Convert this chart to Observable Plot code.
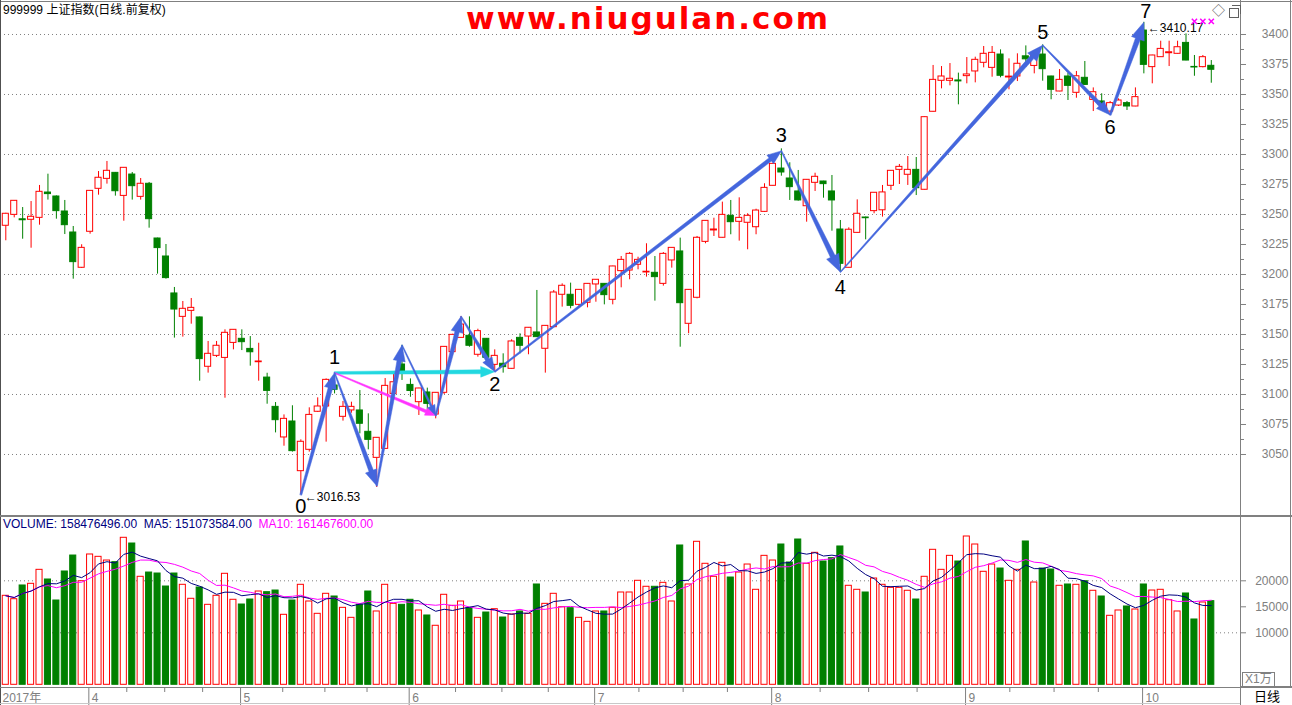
<!DOCTYPE html>
<html><head><meta charset="utf-8">
<script src="https://cdn.jsdelivr.net/npm/d3@7"></script>
<script src="https://cdn.jsdelivr.net/npm/@observablehq/plot@0.6"></script>
<style>
body{margin:0;background:#fff;}
#wrap{position:relative;width:1292px;height:705px;overflow:hidden;background:#fff;font-family:"Liberation Sans","Noto Sans CJK SC",sans-serif;}
.abs{position:absolute;}
.ln{position:absolute;background:#808080;}
</style></head><body><div id="wrap"></div>
<script>
// ---------- DATA ----------
const open = [3240.6,3249.7,3246.0,3245.6,3247.2,3268.3,3265.0,3252.5,3235.0,3205.6,
3235.6,3271.4,3279.7,3284.7,3265.5,3283.3,3264.7,3275.6,3230.0,3215.0,
3184.2,3164.7,3169.7,3164.2,3123.1,3132.2,3130.5,3143.0,3146.4,3138.0,
3126.9,3114.1,3089.7,3064.2,3077.5,3036.1,3053.9,3085.6,3090.0,3107.5,
3081.4,3086.7,3086.7,3068.9,3047.2,3054.7,3100.5,3125.0,3108.0,3093.6,
3101.7,3083.3,3101.4,3135.3,3147.2,3148.9,3133.1,3146.4,3124.7,3125.6,
3121.4,3147.2,3148.3,3151.7,3138.1,3156.1,3183.1,3183.1,3174.7,3176.4,
3191.7,3192.2,3178.9,3202.8,3203.3,3208.1,3201.7,3201.4,3192.2,3211.7,
3219.2,3158.9,3180.6,3227.2,3236.7,3230.6,3248.9,3243.9,3243.1,3239.4,
3252.2,3273.9,3288.3,3280.0,3269.2,3256.9,3276.4,3277.5,3269.2,3237.5,
3205.6,3234.7,3247.5,3252.8,3253.5,3273.9,3287.2,3283.1,3287.2,3270.6,
3335.6,3361.4,3361.4,3361.7,3365.3,3369.2,3376.4,3372.2,3383.3,3364.2,
3365.0,3381.8,3373.8,3383.3,3365.0,3352.5,3365.0,3351.4,3363.9,3345.5,
3344.2,3335.8,3340.8,3342.8,3340.0,3403.3,3372.8,3381.1,3384.4,3383.9,
3393.0,3373.0,3372.8,3373.9];
const high = [3251.0,3261.6,3255.8,3260.8,3274.2,3283.6,3265.5,3261.7,3240.0,3224.8,
3269.9,3285.8,3294.2,3285.0,3289.1,3285.0,3280.0,3276.7,3230.3,3225.0,
3189.2,3177.5,3180.0,3164.5,3144.2,3144.2,3153.9,3154.0,3153.9,3148.3,
3142.7,3117.7,3093.3,3083.0,3090.6,3062.2,3088.9,3097.2,3113.0,3118.0,
3094.2,3093.6,3103.3,3083.9,3064.0,3113.3,3117.7,3141.0,3113.0,3105.2,
3105.3,3101.6,3140.0,3150.2,3165.0,3164.7,3154.4,3146.6,3137.2,3133.9,
3145.6,3150.6,3155.8,3186.7,3157.4,3186.7,3192.2,3192.8,3187.4,3192.4,
3195.8,3192.4,3206.9,3215.0,3218.3,3214.4,3225.6,3215.0,3218.3,3222.4,
3230.3,3187.4,3231.7,3244.9,3246.9,3260.3,3261.7,3263.9,3250.6,3254.4,
3275.6,3292.4,3304.7,3293.1,3286.7,3279.1,3284.4,3277.7,3282.5,3245.0,
3238.9,3262.2,3247.8,3268.3,3274.2,3286.6,3291.7,3298.3,3297.5,3331.3,
3374.2,3373.3,3375.8,3367.8,3380.8,3381.1,3390.0,3390.0,3387.2,3379.7,
3383.9,3390.5,3386.5,3391.4,3365.2,3370.8,3367.7,3369.2,3377.5,3355.5,
3350.6,3344.2,3346.4,3344.2,3355.5,3410.17,3382.7,3394.4,3394.4,3394.4,
3400.5,3382.5,3382.5,3378.3];
const low = [3228.1,3247.2,3229.4,3221.9,3241.1,3262.0,3246.1,3233.3,3196.1,3205.0,
3233.6,3266.1,3275.3,3265.3,3244.4,3262.0,3262.0,3238.6,3200.3,3196.1,
3147.0,3147.8,3158.6,3111.1,3117.8,3130.8,3096.9,3137.2,3136.6,3123.6,
3111.1,3091.9,3068.0,3056.9,3052.0,3016.53,3052.0,3085.0,3060.3,3100.5,
3077.8,3084.4,3067.2,3053.9,3022.5,3054.5,3097.7,3111.7,3097.7,3082.5,
3083.9,3079.7,3100.0,3133.0,3147.0,3139.4,3131.1,3126.9,3119.4,3117.8,
3121.2,3133.9,3133.1,3147.6,3117.8,3156.0,3172.8,3171.4,3172.8,3172.2,
3176.9,3174.7,3174.7,3188.9,3195.6,3203.9,3197.8,3177.8,3190.3,3205.3,
3139.4,3150.6,3179.7,3225.6,3231.7,3230.4,3233.1,3227.8,3220.6,3233.1,
3252.0,3273.7,3281.9,3261.7,3261.1,3243.6,3269.2,3263.6,3236.1,3202.0,
3205.4,3234.5,3228.9,3250.6,3247.8,3270.0,3275.0,3274.2,3265.8,3270.4,
3335.4,3354.7,3357.2,3341.4,3358.9,3359.7,3372.2,3364.4,3363.9,3353.9,
3360.8,3372.5,3367.2,3361.1,3345.6,3352.3,3345.0,3346.9,3357.5,3335.8,
3336.7,3333.0,3340.0,3336.7,3339.8,3367.2,3358.9,3380.9,3373.3,3383.7,
3378.1,3365.2,3372.2,3359.4];
const close = [3250.6,3261.4,3245.2,3248.1,3268.9,3267.0,3252.8,3241.1,3210.3,3222.2,
3269.7,3280.6,3286.4,3269.4,3288.9,3273.6,3275.6,3246.1,3222.0,3197.0,
3170.8,3171.4,3172.2,3129.5,3133.9,3140.6,3151.4,3153.9,3143.6,3135.2,
3127.5,3103.0,3078.6,3079.7,3052.8,3060.6,3083.0,3090.0,3112.2,3103.9,
3089.7,3089.7,3075.6,3062.2,3063.9,3107.2,3110.2,3117.2,3102.9,3105.0,
3092.2,3101.4,3139.7,3149.7,3158.3,3140.6,3152.8,3130.6,3132.2,3122.8,
3144.2,3140.6,3155.6,3147.8,3157.2,3185.0,3190.6,3173.9,3187.2,3192.2,
3195.6,3182.8,3206.7,3212.2,3217.2,3212.2,3202.3,3197.8,3217.2,3222.2,
3176.1,3187.2,3230.6,3244.7,3237.5,3249.7,3243.6,3247.2,3248.9,3253.3,
3272.2,3292.2,3285.0,3272.8,3261.7,3278.9,3281.4,3275.3,3261.7,3208.9,
3237.3,3250.6,3246.9,3268.1,3268.4,3286.4,3289.7,3287.2,3271.9,3331.1,
3362.2,3365.0,3363.1,3360.9,3366.7,3378.9,3383.9,3384.7,3365.6,3364.9,
3375.6,3379.3,3383.9,3371.1,3353.9,3362.2,3357.2,3365.2,3358.0,3351.9,
3341.4,3342.8,3345.0,3340.0,3347.8,3374.7,3382.5,3388.0,3385.2,3389.4,
3378.3,3372.5,3381.1,3370.6];
const volume = [17115,16460,19100,19420,22110,20250,16210,21790,24860,19920,
25060,24610,23900,23580,28270,27170,20770,21590,21400,18900,
21400,19230,16540,18710,15380,17115,21345,16350,15440,16400,
17940,17810,18130,13460,16210,19230,16020,13650,17500,16980,
14800,12880,15380,17940,14100,19230,15570,15380,16350,14290,
13330,11350,17310,15190,16020,14730,12880,13900,14540,12940,
13520,14100,13650,19290,15570,17500,14920,14730,12880,12110,
14100,14100,14800,17750,17750,20000,18850,18850,19610,16020,
26790,19290,27500,23270,20770,23460,20630,21590,23130,18270,
24800,23900,26980,23520,27940,23270,25380,23710,24350,26600,
19040,18270,17750,20440,19230,18650,18650,18080,16400,20770,
25960,22110,24800,23710,28520,26980,21730,23130,22360,20000,
22110,27560,19670,22360,22170,19040,19290,19230,19920,18080,
16980,13270,14290,15060,14480,19290,18130,18270,16270,14100,
17560,12560,15830,16080];

const monthLabels = ["2017年","4","5","6","7","8","9","10"];
const monthStart  = [-0.6, 10, 28, 48, 70, 91, 114, 135];   // index of first trading day
const priceTicks = [3050,3075,3100,3125,3150,3175,3200,3225,3250,3275,3300,3325,3350,3375,3400];
const priceGrid  = [3050,3100,3150,3200,3250,3300,3350,3400];
const volTicks = [10000,15000,20000];
const volGrid  = [10000,20000];

// wave pivots (candle index, price)
const pivotName  = ["0","1","A","B","C","D","2","3","4","5","6","7"];
const pivotIdx   = [35, 39, 44, 47, 51, 54, 58, 92, 99, 123, 131, 135];
const pivotPrice = [3016.53,3118,3024,3141,3082.5,3165,3119,3303,3202,3391,3333,3410.17];
const priceNotes = [{i:35, p:3016.53, t:"←3016.53", dy:2}, {i:135, p:3410.17, t:"←3410.17", dy:6}];
const markIdx = [141,142,143];
const markPrice = 3411;

const title = "999999 上证指数(日线.前复权)";
const volHeader = ["VOLUME: 158476496.00", "MA5: 151073584.00", "MA10: 161467600.00"];

// ---------- BUILD ----------
const RED="#ff0000", GREEN="#008000", BLUE="#4466dd", CYAN="#22d8e0", MAG="#ff33ff", GRAY="#808080";
const rows = open.map((o,i)=>({i, o, h:high[i], l:low[i], c:close[i], v:volume[i], up: close[i]>=o}));
const upRows = rows.filter(d=>d.up), dnRows = rows.filter(d=>!d.up);
const HW = 0.36;
const X = {type:"linear", domain:[-0.6287, 146.465], axis:null};
const FONT = "'Liberation Sans','Noto Sans CJK SC',sans-serif";
const style = {background:"transparent", fontFamily:FONT, fontSize:"12px", overflow:"visible"};

const P = {}; pivotName.forEach((n,k)=>P[n]={i:pivotIdx[k], p:pivotPrice[k]});
// [from, to, colour, tail width, head-end width]
const arrowSpec = [
  ["1","2",CYAN,2.5,4],
  ["1","C",MAG,1,3],
  ["0","1",BLUE,2,4.5],
  ["1","A",BLUE,1,4.5],
  ["A","B",BLUE,1.5,4.5],
  ["B","C",BLUE,1,2],
  ["C","D",BLUE,1.5,4.5],
  ["D","2",BLUE,1,4],
  ["2","3",BLUE,1.5,4],
  ["3","4",BLUE,1,5],
  ["4","5",BLUE,1,4.5],
  ["5","6",BLUE,1,4],
  ["6","7",BLUE,2,5]
];
const labelDy = {"0":12,"1":-15,"2":13,"3":-15,"4":15,"5":-13,"6":13,"7":-11};

function pricePlotWith(extra){
  return Plot.plot({
    width:1292, height:516, marginLeft:0, marginRight:52, marginTop:0, marginBottom:0,
    x: X, y: {domain:[2998.33, 3428.33], label:null},
    style,
    marks: [
      Plot.ruleY(priceGrid, {stroke:GRAY, strokeDasharray:"1,3", strokeWidth:1}),
      Plot.axisY({anchor:"right", ticks:priceTicks, tickSize:5, tickPadding:43, textAnchor:"end", tickFormat:d=>String(d), color:GRAY, label:null, fontSize:12}),
      Plot.axisY({anchor:"right", ticks:priceTicks.slice(0,-1).map(v=>v+12.5), tickSize:3, tickFormat:()=>"", color:GRAY, label:null}),
      Plot.ruleX(upRows, {x:"i", y1:"l", y2:"h", stroke:RED, strokeWidth:1}),
      Plot.ruleX(dnRows, {x:"i", y1:"l", y2:"h", stroke:GREEN, strokeWidth:1}),
      Plot.rect(upRows, {x1:d=>d.i-HW, x2:d=>d.i+HW, y1:"o", y2:"c", fill:"#fff", stroke:RED, strokeWidth:1}),
      Plot.rect(dnRows, {x1:d=>d.i-HW, x2:d=>d.i+HW, y1:"o", y2:"c", fill:GREEN, stroke:GREEN, strokeWidth:1}),
      ...extra,
      ...Object.keys(labelDy).map(n => Plot.text([P[n]], {x:"i", y:"p", text:()=>n, dy:labelDy[n], dx: n==="7"?2:0, fontSize:20, fill:"#000"})),
      ...priceNotes.map(d => Plot.text([d], {x:"i", y:"p", text:"t", textAnchor:"start", dx:4, dy:d.dy, fontSize:12, fill:"#000"})),
      Plot.dot(markIdx, {x:d=>d, y:()=>markPrice, symbol:"times", r:2.5, stroke:"#ff00ff", strokeWidth:1.5})
    ]
  });
}

// first pass to read the plot's own scales, then build tapered arrow polygons in data space
const base = pricePlotWith([]);
const sx = base.scale("x"), sy = base.scale("y");
const fx = d3.scaleLinear(sx.domain, sx.range), fy = d3.scaleLinear(sy.domain, sy.range);
const arrowMarks = arrowSpec.map(([f,t,color,w0,w1])=>{
  const a=P[f], b=P[t];
  const ax=fx(a.i), ay=fy(a.p), bx=fx(b.i), by=fy(b.p);
  const len=Math.hypot(bx-ax, by-ay), ux=(bx-ax)/len, uy=(by-ay)/len, nx=-uy, ny=ux;
  const hw=Math.max(4, w1*1.35), hl=Math.min(hw*2.6, len*0.4);
  const cx=bx-ux*hl, cy=by-uy*hl;
  const pts=[[ax+nx*w0/2, ay+ny*w0/2],[cx+nx*w1/2, cy+ny*w1/2],[cx+nx*hw, cy+ny*hw],[bx,by],
             [cx-nx*hw, cy-ny*hw],[cx-nx*w1/2, cy-ny*w1/2],[ax-nx*w0/2, ay-ny*w0/2]]
             .map(([x,y])=>({i:fx.invert(x), p:fy.invert(y)}));
  return Plot.line(pts, {x:"i", y:"p", fill:color, stroke:color, strokeWidth:0.5, curve:"linear-closed"});
});
const pricePlot = pricePlotWith(arrowMarks);

const volPlot = Plot.plot({
  width:1292, height:172, marginLeft:0, marginRight:52, marginTop:0, marginBottom:3.7,
  x: X, y: {domain:[0, 32365], label:null},
  style,
  marks: [
    Plot.ruleY(volGrid, {stroke:GRAY, strokeDasharray:"1,3", strokeWidth:1}),
    Plot.axisY({anchor:"right", ticks:volTicks, tickSize:5, tickPadding:43, textAnchor:"end", tickFormat:d=>String(d), color:GRAY, label:null, fontSize:12}),
    Plot.rect(upRows, {x1:d=>d.i-HW, x2:d=>d.i+HW, y1:0, y2:"v", fill:"#fff", stroke:RED, strokeWidth:1}),
    Plot.rect(dnRows, {x1:d=>d.i-HW, x2:d=>d.i+HW, y1:0, y2:"v", fill:GREEN, stroke:GREEN, strokeWidth:1}),
    Plot.lineY(rows, Plot.windowY({k:10, anchor:"end"}, {x:"i", y:"v", stroke:"#ff00ff", strokeWidth:1})),
    Plot.lineY(rows, Plot.windowY({k:5, anchor:"end"}, {x:"i", y:"v", stroke:"#000080", strokeWidth:1}))
  ]
});

const months = monthLabels.map((label,k)=>({label, pos: monthStart[k]-0.15}));
const quarters = [];
for (let k=1;k<monthStart.length-1;k++){
  const a=monthStart[k]-0.15, b=monthStart[k+1]-0.15;
  for (let q=1;q<4;q++) quarters.push(a+(b-a)*q/4);
}
const datePlot = Plot.plot({
  width:1292, height:17, marginLeft:0, marginRight:52, marginTop:0, marginBottom:0,
  x: X, style,
  marks: [
    Plot.ruleX(months.slice(1), {x:"pos", stroke:GRAY}),
    Plot.ruleX(quarters, {x:d=>d, stroke:GRAY, insetBottom:13}),
    Plot.text(months, {x:"pos", text:"label", textAnchor:"start", dx:3, dy:1, frameAnchor:"middle", fill:GRAY, fontSize:12})
  ]
});

// ---------- LAYOUT ----------
const wrap = document.getElementById("wrap");
function place(el, left, top){ const d=document.createElement("div"); d.className="abs"; d.style.left=left+"px"; d.style.top=top+"px"; d.appendChild(el); wrap.appendChild(d); return d; }
function line(l,t,w,h,c){ const d=document.createElement("div"); d.className="ln"; Object.assign(d.style,{left:l+"px",top:t+"px",width:w+"px",height:h+"px"}); if(c) d.style.background=c; wrap.appendChild(d); }
function html(s, l, t, css){ const d=document.createElement("div"); d.className="abs"; d.style.left=l+"px"; d.style.top=t+"px"; d.style.whiteSpace="nowrap"; Object.assign(d.style, css||{}); d.innerHTML=s; wrap.appendChild(d); return d; }

place(pricePlot, 0, 0);
place(volPlot, 0, 516);
place(datePlot, 0, 688);

// frame lines
line(0,1,1292,1); line(0,0,1,705,"#505050"); line(1240,0,1,705); line(1290,0,1,688);
line(0,515,1292,2); line(0,687,1292,1); line(1240,686,52,2); line(0,703,1240,1,"#c8c8c8");

// texts
html(title, 3, 3, {fontSize:"12px", color:"#000", lineHeight:"14px"});
html("www.niugulan.com", 466, 3, {fontFamily:"'DejaVu Sans',sans-serif", fontWeight:"bold", fontSize:"31px", letterSpacing:"2px", color:"#ff0000", lineHeight:"31px"});
html(`<span style="color:#000080">${volHeader[0]}</span>&nbsp; <span style="color:#000080">${volHeader[1]}</span>&nbsp; <span style="color:#ff00ff">${volHeader[2]}</span>`, 3, 517, {fontSize:"12px", lineHeight:"14px"});
html("X1万", 1242, 672, {fontSize:"12px", color:GRAY, border:"1px solid "+GRAY, padding:"0 2px", lineHeight:"13px"});
html("日线", 1254, 689, {fontSize:"13px", color:"#000", lineHeight:"15px"});
html("◇", 1212, 3, {fontSize:"13px", color:"#606060", lineHeight:"15px"});
const w1=document.createElement("div"); Object.assign(w1.style,{position:"absolute",left:"1229px",top:"8px",width:"8px",height:"8px",border:"1px solid #606060",background:"#fff"}); wrap.appendChild(w1);
const w2=document.createElement("div"); Object.assign(w2.style,{position:"absolute",left:"1232px",top:"5px",width:"8px",height:"8px",borderTop:"1px solid #606060",borderRight:"1px solid #606060"}); wrap.appendChild(w2);
</script></body></html>
